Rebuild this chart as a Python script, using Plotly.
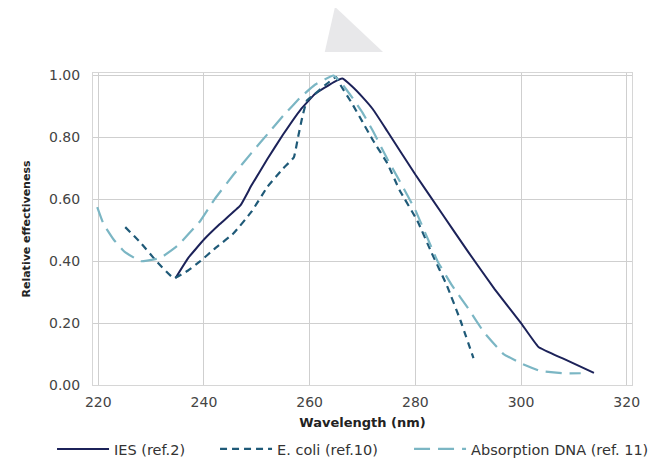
import plotly.graph_objects as go

ies_x = [234.6, 237, 240, 243, 246.9, 249, 252, 255, 258.3, 261, 264.5, 266.2, 268, 270, 272, 274.7, 280, 285, 290, 295, 300, 303.3, 308, 313.8]
ies_y = [0.345, 0.41, 0.47, 0.52, 0.58, 0.645, 0.73, 0.81, 0.89, 0.94, 0.978, 0.99, 0.965, 0.93, 0.89, 0.82, 0.68, 0.555, 0.43, 0.31, 0.20, 0.123, 0.085, 0.039]

ecoli_x = [225.1, 228, 231, 234.3, 237, 239.3, 242, 245.6, 249, 252, 255, 257, 257.8, 258.6, 259.5, 261, 263, 265, 265.8, 268, 270, 272, 274.7, 277, 280.4, 283, 286, 288.5, 291]
ecoli_y = [0.51, 0.46, 0.40, 0.345, 0.37, 0.40, 0.44, 0.49, 0.56, 0.64, 0.70, 0.735, 0.80, 0.865, 0.92, 0.94, 0.97, 0.995, 0.97, 0.91, 0.85, 0.79, 0.716, 0.63, 0.53, 0.43, 0.32, 0.21, 0.087]

dna_x = [219.8, 221, 222.9, 225, 228, 231.7, 235, 239.3, 242, 245.6, 249, 252, 255, 258.3, 261, 264.5, 265.8, 268, 270, 272, 274.7, 277, 280, 284.2, 287, 289.9, 293, 296.7, 300, 303.7, 308, 311.3]
dna_y = [0.575, 0.52, 0.47, 0.43, 0.40, 0.41, 0.45, 0.53, 0.60, 0.68, 0.75, 0.81, 0.87, 0.93, 0.97, 1.0, 0.98, 0.93, 0.88, 0.82, 0.73, 0.66, 0.565, 0.40, 0.32, 0.25, 0.17, 0.10, 0.07, 0.045, 0.038, 0.038]

names = ["IES (ref.2)", "E. coli (ref.10)", "Absorption DNA (ref. 11)"]
x_ticks = [220, 240, 260, 280, 300, 320]
y_ticks = [0.0, 0.2, 0.4, 0.6, 0.8, 1.0]

FONT = "DejaVu Sans"

fig = go.Figure()
fig.add_trace(go.Scatter(x=ies_x, y=ies_y, mode="lines", name=names[0], legendwidth=96,
                         line=dict(color="#1c2259", width=2, shape="spline", smoothing=0.3)))
fig.add_trace(go.Scatter(x=ecoli_x, y=ecoli_y, mode="lines", name=names[1], legendwidth=127,
                         line=dict(color="#1f5a78", width=2.2, dash="7px,5px", shape="spline", smoothing=0.3)))
fig.add_trace(go.Scatter(x=dna_x, y=dna_y, mode="lines", name=names[2], legendwidth=176,
                         line=dict(color="#7bb6c4", width=2.2, dash="16px,8px", shape="spline", smoothing=0.3)))

fig.add_shape(type="path", xref="paper", yref="paper",
              path="M 0.449 1.212 L 0.430 1.067 L 0.538 1.067 Z",
              fillcolor="#e8e8ea", line=dict(width=0))

fig.update_layout(
    width=656, height=452,
    margin=dict(l=85, r=32, t=65, b=75, autoexpand=False),
    paper_bgcolor="white", plot_bgcolor="white",
    font=dict(family=FONT, color="#333333", size=14),
    showlegend=True,
    legend=dict(orientation="h", x=-0.076, xanchor="left", y=-0.205, yanchor="middle",
                font=dict(size=14.5, color="#333333", family=FONT), itemwidth=52, tracegroupgap=0),
    xaxis=dict(range=[219, 321], tickvals=x_ticks, ticks="", showgrid=True,
               gridcolor="#cfcfcf", gridwidth=1, zeroline=False, automargin=False,
               showline=True, linecolor="#d6d6d6", mirror=True, ticklabelstandoff=4,
               title=dict(text="<b>Wavelength (nm)</b>", font=dict(size=13, color="#222222", family=FONT), standoff=9),
               tickfont=dict(size=14, color="#444444")),
    yaxis=dict(range=[0, 1.008], tickvals=y_ticks, tickformat=".2f", ticks="", showgrid=True,
               gridcolor="#cfcfcf", gridwidth=1, zeroline=False, automargin=False,
               showline=True, linecolor="#d6d6d6", mirror=True, ticklabelstandoff=9,
               title=dict(text="<b>Relative effectiveness</b>", font=dict(size=11, color="#222222", family=FONT), standoff=16),
               tickfont=dict(size=14, color="#444444")),
)

fig.write_html("out.html")
